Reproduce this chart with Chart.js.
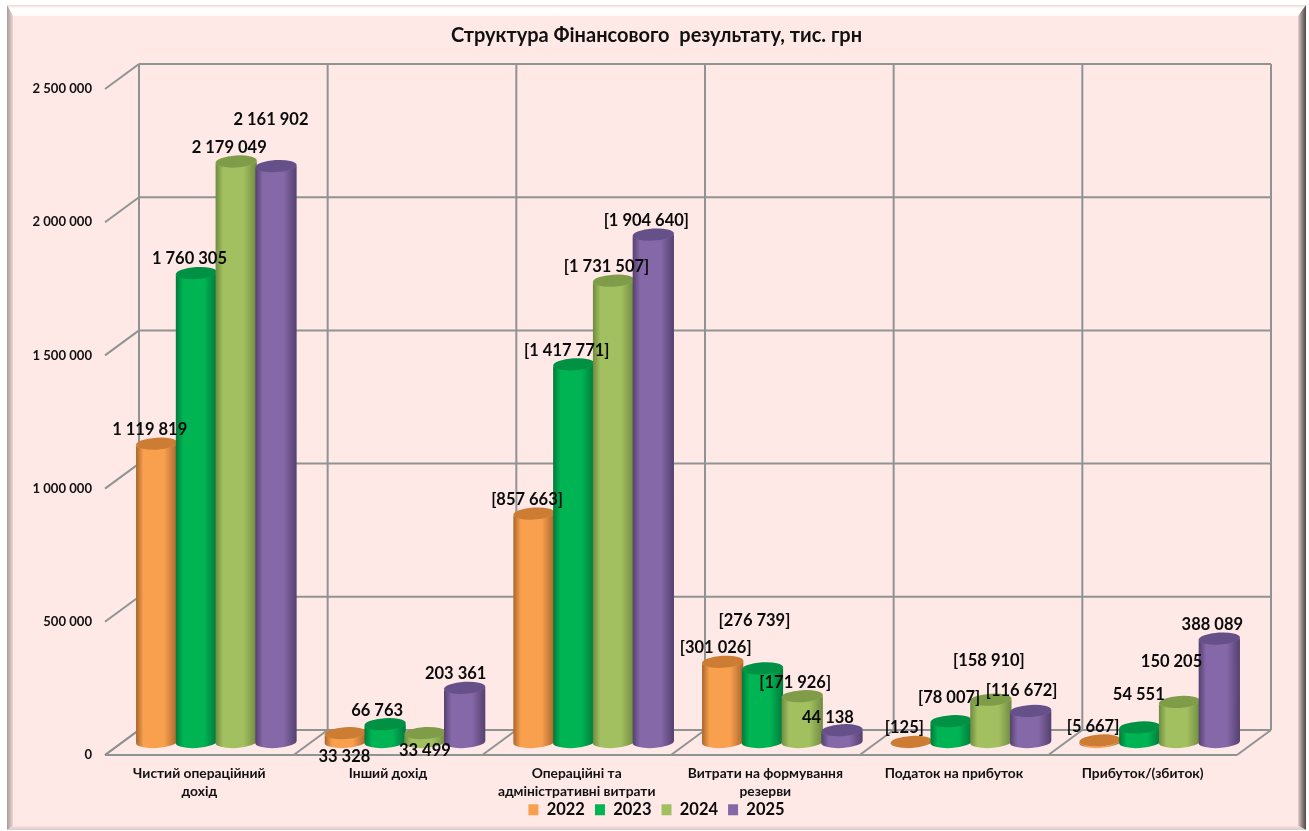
<!DOCTYPE html>
<html lang="uk">
<head>
<meta charset="utf-8">
<title>Структура Фінансового результату</title>
<script src="https://cdn.jsdelivr.net/npm/chart.js@4/dist/chart.umd.min.js"></script>
<style>
  html, body { margin: 0; padding: 0; background: #fff; overflow: hidden; }
  #wrap { position: relative; width: 1309px; height: 831px; }
</style>
</head>
<body>
<div id="wrap"><canvas id="finResult" width="1309" height="831"></canvas></div>
<script>
  // Data
  const categories = [
    ['Чистий операційний', 'дохід'],
    'Інший дохід',
    ['Операційні та', 'адміністративні витрати'],
    ['Витрати на формування', 'резерви'],
    'Податок на прибуток',
    'Прибуток/(збиток)'
  ];
  const years = ['2022', '2023', '2024', '2025'];
  const values2022 = [1119819, 33328, 857663, 301026, 125, 5667];
  const values2023 = [1760305, 66763, 1417771, 276739, 78007, 54551];
  const values2024 = [2179049, 33499, 1731507, 171926, 158910, 150205];
  const values2025 = [2161902, 203361, 1904640, 44138, 116672, 388089];
  const labels2022 = ['1 119 819', '33 328', '[857 663]', '[301 026]', '[125]', '[5 667]'];
  const labels2023 = ['1 760 305', '66 763', '[1 417 771]', '[276 739]', '[78 007]', '54 551'];
  const labels2024 = ['2 179 049', '33 499', '[1 731 507]', '[171 926]', '[158 910]', '150 205'];
  const labels2025 = ['2 161 902', '203 361', '[1 904 640]', '44 138', '[116 672]', '388 089'];

  const allLabels = [labels2022, labels2023, labels2024, labels2025];

  // Colors [body, dark edge, cap]
  const palette = [
    ['#F9A04F', '#A9652B', '#CC7D33'],
    ['#00B454', '#00793A', '#009145'],
    ['#A2C05F', '#6F8A40', '#7F9C49'],
    ['#8568A8', '#55406F', '#65508A']
  ];

  // Hand placed data labels, as in the original ("series:category": [dx, dy])
  const labelNudge = {
    '3:0': [-5, -46],
    '0:1': [-1, 24], '1:1': [-8, -14], '2:1': [0, 18], '3:1': [-9, -14],
    '1:3': [-8, -48], '3:3': [-14, -13],
    '1:4': [-2, -24], '2:4': [-2, -39], '3:4': [-9, -20],
    '1:5': [-1, -33], '2:5': [-8, -40]
  };

  const FONT = 'Lato, "Open Sans", sans-serif';
  const PLANE_BACK = { x: 17, y: -12 };
  const PLANE_FRONT = { x: -17, y: 13 };

  // Bevelled picture frame
  const framePlugin = {
    id: 'frame',
    beforeDraw(chart) {
      const c = chart.ctx;
      const L = 7, T = 5, R = 1306, B = 830, bl = 6, bt = 11, br = 8, bb = 4;
      c.save();
      c.fillStyle = '#FEE9E6';
      c.fillRect(L, T, R - L, B - T);

      const side = (pts, g) => {
        c.beginPath();
        pts.forEach((p, i) => (i ? c.lineTo(p[0], p[1]) : c.moveTo(p[0], p[1])));
        c.closePath();
        c.fillStyle = g;
        c.fill();
      };
      let g = c.createLinearGradient(0, T, 0, T + bt);
      g.addColorStop(0, '#F0D6D2');
      g.addColorStop(0.3, '#FFFFFF');
      g.addColorStop(1, '#FFFBFA');
      side([[L, T], [R, T], [R - br, T + bt], [L + bl, T + bt]], g);

      g = c.createLinearGradient(L, 0, L + bl, 0);
      g.addColorStop(0, '#A89B9A');
      g.addColorStop(1, '#EBD6D3');
      side([[L, T], [L + bl, T + bt], [L + bl, B - bb], [L, B]], g);

      g = c.createLinearGradient(R - br, 0, R, 0);
      g.addColorStop(0, '#E5D2CF');
      g.addColorStop(0.5, '#8D8382');
      g.addColorStop(1, '#4F4A4A');
      side([[R, T], [R, B], [R - br, B - bb], [R - br, T + bt]], g);

      g = c.createLinearGradient(0, B - bb, 0, B);
      g.addColorStop(0, '#F6E2DF');
      g.addColorStop(1, '#D9C9C7');
      side([[L, B], [L + bl, B - bb], [R - br, B - bb], [R, B]], g);
      c.restore();
    }
  };

  // Back wall, floor and the diagonal tick lines of the 3D box
  const wallPlugin = {
    id: 'wall',
    beforeDatasetsDraw(chart) {
      const c = chart.ctx, xs = chart.scales.x, ys = chart.scales.y;
      const left = xs.left, step = (xs.right - xs.left) / categories.length;
      c.save();
      c.strokeStyle = '#8F9493';
      c.lineWidth = 2;
      const line = (x1, y1, x2, y2) => {
        c.beginPath();
        c.moveTo(x1, y1);
        c.lineTo(x2, y2);
        c.stroke();
      };
      ys.ticks.forEach(t => {
        const py = ys.getPixelForValue(t.value);
        line(left + PLANE_BACK.x, py + PLANE_BACK.y, xs.right + PLANE_BACK.x, py + PLANE_BACK.y);
        line(left + PLANE_FRONT.x, py + PLANE_FRONT.y, left + PLANE_BACK.x, py + PLANE_BACK.y);
      });
      const y0 = ys.getPixelForValue(0), yTop = ys.getPixelForValue(ys.max);
      line(left + PLANE_FRONT.x, y0 + PLANE_FRONT.y, xs.right + PLANE_FRONT.x, y0 + PLANE_FRONT.y);
      for (let i = 0; i <= categories.length; i++) {
        const px = left + i * step;
        line(px + PLANE_BACK.x, yTop + PLANE_BACK.y, px + PLANE_BACK.x, y0 + PLANE_BACK.y);
        line(px + PLANE_FRONT.x, y0 + PLANE_FRONT.y, px + PLANE_BACK.x, y0 + PLANE_BACK.y);
      }
      c.restore();
    }
  };

  // Turns every bar into a cylinder, then puts the value labels on top
  const cylinderPlugin = {
    id: 'cylinder',
    afterDatasetsDraw(chart) {
      const c = chart.ctx;
      const ry = 6, tilt = -0.06;
      c.save();
      chart.data.datasets.forEach((ds, d) => {
        const col = palette[d];
        chart.getDatasetMeta(d).data.forEach(bar => {
          const rx = bar.width / 2 + 0.8;
          const x = bar.x, top = bar.y, base = bar.base;
          const g = c.createLinearGradient(x - rx, 0, x + rx, 0);
          g.addColorStop(0, col[1]);
          g.addColorStop(0.18, col[0]);
          g.addColorStop(0.68, col[0]);
          g.addColorStop(1, col[1]);
          c.beginPath();
          c.ellipse(x, top, rx, ry, tilt, Math.PI, 0, true);
          c.lineTo(x + rx, base);
          c.ellipse(x, base, rx, ry, tilt, 0, Math.PI);
          c.closePath();
          c.fillStyle = g;
          c.fill();
          c.beginPath();
          c.ellipse(x, top, rx, ry, tilt, 0, Math.PI * 2);
          c.fillStyle = col[2];
          c.fill();
        });
      });
      c.font = 'bold 16.5px ' + FONT;
      c.fillStyle = '#0A0A0A';
      c.textAlign = 'center';
      c.textBaseline = 'middle';
      chart.data.datasets.forEach((ds, d) => {
        chart.getDatasetMeta(d).data.forEach((bar, i) => {
          const n = labelNudge[d + ':' + i] || [-7, -14];
          c.fillText(allLabels[d][i], bar.x + n[0], bar.y + n[1]);
        });
      });
      c.restore();
    }
  };

  const makeSet = (i, data) => ({
    label: years[i],
    data: data,
    backgroundColor: palette[i][0],
    borderWidth: 0
  });

  new Chart(document.getElementById('finResult'), {
    type: 'bar',
    data: {
      labels: categories,
      datasets: [
        makeSet(0, values2022),
        makeSet(1, values2023),
        makeSet(2, values2024),
        makeSet(3, values2025)
      ]
    },
    options: {
      responsive: false,
      animation: false,
      devicePixelRatio: 1,
      layout: { padding: { left: 4, bottom: 3 } },
      datasets: { bar: { categoryPercentage: 0.843, barPercentage: 1 } },
      scales: {
        x: {
          grid: { display: false, drawTicks: false },
          border: { display: false },
          afterFit(scale) { scale.height = 57.5; },
          ticks: {
            padding: 23,
            labelOffset: -17,
            maxRotation: 0,
            autoSkip: false,
            color: '#111',
            font: { family: FONT, size: 13.8, weight: 'bold', lineHeight: 1.3 }
          }
        },
        y: {
          min: 0,
          max: 2500000,
          afterFit(scale) { scale.width = 118; },
          grid: { display: false, drawTicks: false },
          border: { display: false },
          ticks: {
            stepSize: 500000,
            labelOffset: 13,
            padding: 30,
            color: '#111',
            font: { family: FONT, size: 13.1, weight: 'bold' },
            callback: v => String(v).replace(/\B(?=(\d{3})+$)/g, ' ')
          }
        },
        // empty axis, keeps the margin right of the box while the title stays centred on the page
        rightMargin: {
          axis: 'y',
          position: 'right',
          afterFit(scale) { scale.width = 55; },
          grid: { display: false, drawTicks: false },
          border: { display: false },
          ticks: { display: false }
        }
      },
      plugins: {
        title: {
          display: true,
          text: 'Структура Фінансового  результату, тис. грн',
          color: '#111',
          font: { family: FONT, size: 20, weight: 'bold' },
          padding: { top: 24, bottom: 28 }
        },
        legend: {
          position: 'bottom',
          labels: {
            boxWidth: 10,
            boxHeight: 11,
            padding: 2,
            color: '#0A0A0A',
            font: { family: FONT, size: 16.5, weight: 'bold' },
            // padding is small so the legend box stays low, spaces keep the items apart
            generateLabels(chart) {
              return Chart.defaults.plugins.legend.labels.generateLabels(chart).map((item, i) => {
                if (i < years.length - 1) item.text += '  ';
                return item;
              });
            }
          }
        },
        tooltip: { enabled: false }
      }
    },
    plugins: [framePlugin, wallPlugin, cylinderPlugin]
  });
</script>
</body>
</html>
